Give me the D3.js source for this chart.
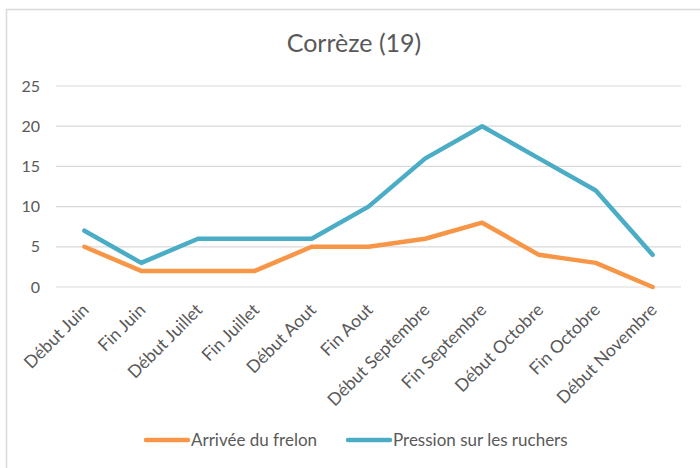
<!DOCTYPE html>
<html>
<head>
<meta charset="utf-8">
<script src="https://cdn.jsdelivr.net/npm/d3@7"></script>
<style>
  body { margin: 0; background: #fff; }
  svg { display: block; font-family: Lato, "Open Sans", sans-serif; }
</style>
</head>
<body>
<div id="chart"></div>
<script>
const periods = ["Début Juin", "Fin Juin", "Début Juillet", "Fin Juillet", "Début Aout", "Fin Aout",
  "Début Septembre", "Fin Septembre", "Début Octobre", "Fin Octobre", "Début Novembre"];
const arrivee = [5, 2, 2, 2, 5, 5, 6, 8, 4, 3, 0];
const pression = [7, 3, 6, 6, 6, 10, 16, 20, 16, 12, 4];
const yTicks = [0, 5, 10, 15, 20, 25];
const seriesNames = ["Arrivée du frelon", "Pression sur les ruchers"];
const colors = ["#F79646", "#4BACC6"];

const width = 700;
const height = 468;

const svg = d3.select("#chart")
  .append("svg")
  .attr("width", width)
  .attr("height", height);

// chart frame
svg.append("rect")
  .attr("x", 6.5).attr("y", 9.5)
  .attr("width", 720).attr("height", 480)
  .attr("fill", "none")
  .attr("stroke", "#d9d9d9")
  .attr("stroke-width", 1.5);

svg.append("text")
  .attr("x", 354).attr("y", 52)
  .attr("text-anchor", "middle")
  .attr("font-size", 25)
  .attr("fill", "#595959")
  .text("Corrèze (19)");

const x = d3.scalePoint()
  .domain(periods)
  .range([56, 681])
  .padding(0.5);

const y = d3.scaleLinear()
  .domain([0, 25])
  .range([287, 86]);

// gridlines
svg.append("g")
  .selectAll("line")
  .data(yTicks)
  .join("line")
  .attr("x1", 56).attr("x2", 681)
  .attr("y1", d => y(d)).attr("y2", d => y(d))
  .attr("stroke", "#d9d9d9")
  .attr("stroke-width", 1.2);

// y axis labels
const yAxis = svg.append("g")
  .attr("transform", "translate(56,0)")
  .call(d3.axisLeft(y).tickValues(yTicks).tickSize(0).tickPadding(16));
yAxis.select(".domain").remove();
yAxis.selectAll("text")
  .attr("font-size", 16)
  .attr("font-family", "Lato, sans-serif")
  .attr("fill", "#595959");

// x axis labels
const xAxis = svg.append("g")
  .attr("transform", "translate(0,287)")
  .call(d3.axisBottom(x).tickSize(0));
xAxis.select(".domain").remove();
xAxis.selectAll("text")
  .attr("font-size", 17.5)
  .attr("font-family", "Lato, sans-serif")
  .attr("fill", "#595959")
  .attr("text-anchor", "end")
  .attr("dy", null)
  .attr("y", 0)
  .attr("transform", "translate(5,24) rotate(-45)");

const line = d3.line()
  .x((d, i) => x(periods[i]))
  .y(d => y(d));

[arrivee, pression].forEach((vals, k) => {
  svg.append("path")
    .datum(vals)
    .attr("d", line)
    .attr("fill", "none")
    .attr("stroke", colors[k])
    .attr("stroke-width", 4.5)
    .attr("stroke-linejoin", "round")
    .attr("stroke-linecap", "round");
});

// legend
const legendX = [146, 348];
const legend = svg.append("g");
seriesNames.forEach((name, k) => {
  legend.append("line")
    .attr("x1", legendX[k]).attr("x2", legendX[k] + 42)
    .attr("y1", 440).attr("y2", 440)
    .attr("stroke", colors[k])
    .attr("stroke-width", 4.5)
    .attr("stroke-linecap", "round");
  legend.append("text")
    .attr("x", legendX[k] + 45).attr("y", 446)
    .attr("font-size", 17)
    .attr("fill", "#595959")
    .text(name);
});
</script>
</body>
</html>
